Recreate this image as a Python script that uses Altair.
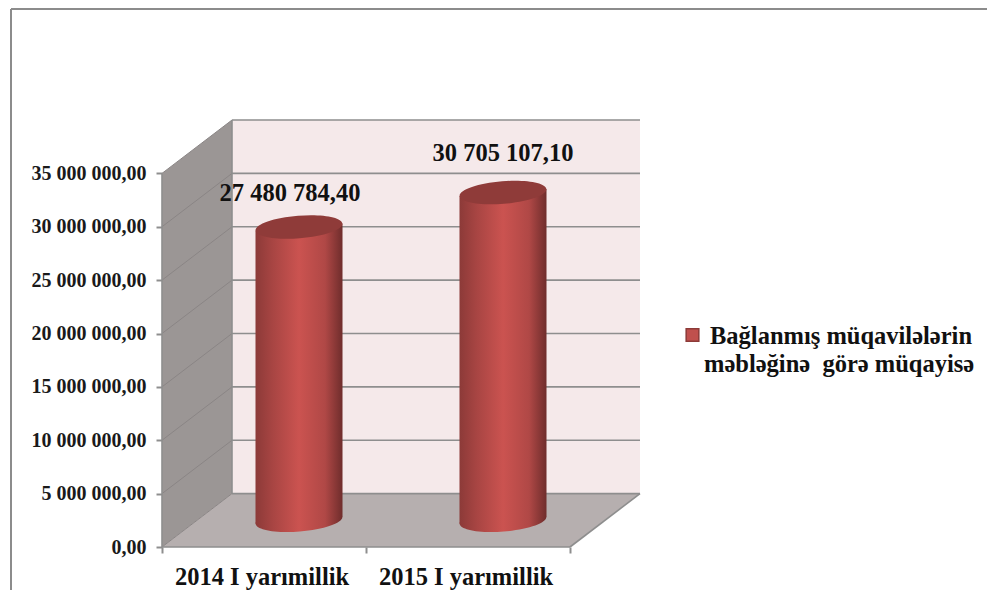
import altair as alt
import pandas as pd

categories = ["2014 I yarımillik", "2015 I yarımillik"]
values = [27480784.40, 30705107.10]
value_labels = ["27 480 784,40", "30 705 107,10"]
y_ticks = [0, 5000000, 10000000, 15000000, 20000000, 25000000, 30000000, 35000000]
legend_lines = ["Bağlanmış müqavilələrin", "məbləğinə\u00a0 görə müqayisə"]

FONT = "Liberation Serif"
GRID = "#8e8e8e"
DX = 70 / 204      # depth of the 3D box, in category units
DY = 5000000       # depth of the 3D box, in value units
HALF = 43.5 / 204  # half width of a cylinder, in category units
TILT = 330000      # ellipse tilt, in value units
X_SCALE = alt.Scale(domain=[0, 2 + DX], nice=False, zero=False)
Y_SCALE = alt.Scale(domain=[0, 40000000], nice=False, zero=False)
X_AXIS = alt.Axis(values=[0, 1, 2], labels=False, domain=False, grid=False, title=None,
                  tickSize=6, tickWidth=2, tickColor=GRID)
Y_AXIS = alt.Axis(
    values=y_ticks, domain=False, grid=False, title=None, tickSize=6, tickWidth=2, tickColor=GRID,
    labelFont=FONT, labelFontSize=20, labelFontWeight="bold", labelColor="#1a1a1a", labelPadding=10,
    labelExpr="replace(replace(format(datum.value, ',.2f'), /,/g, ' '), '.', ',')",
)

ELLIPSE = "M-0.997,0.08A1,0.26,-4.6,1,1,0.997,-0.08A1,0.26,-4.6,1,1,-0.997,0.08Z"
STOPS = [
    alt.GradientStop(offset=0, color="#8c3a38"),
    alt.GradientStop(offset=0.2, color="#a84543"),
    alt.GradientStop(offset=0.5, color="#cb5350"),
    alt.GradientStop(offset=0.8, color="#b04846"),
    alt.GradientStop(offset=1, color="#6f2d2c"),
]
BODY = alt.Gradient(gradient="linear", x1=0, x2=1, y1=0, y2=0, stops=STOPS)


def X(f, **k):
    return alt.X(f, type="quantitative", scale=X_SCALE, axis=X_AXIS, **k)


def Y(f, **k):
    return alt.Y(f, type="quantitative", scale=Y_SCALE, axis=Y_AXIS, **k)


# walls ---------------------------------------------------------------
back = (
    alt.Chart(pd.DataFrame({"x": [DX], "x2": [2 + DX], "y": [DY], "y2": [35000000 + DY]}))
    .mark_rect(color="#f5e9ea")
    .encode(X("x"), x2="x2", y=Y("y"), y2="y2")
)
side = (
    alt.Chart(pd.DataFrame({"x": [0, DX], "y": [0, DY], "y2": [35000000, 35000000 + DY]}))
    .mark_area(color="#9b9695", opacity=1)
    .encode(X("x"), Y("y"), y2="y2")
)
floor = (
    alt.Chart(pd.DataFrame({"y": [0, DY], "x": [0, DX], "x2": [2, 2 + DX]}))
    .mark_area(color="#b6afaf", opacity=1, orient="horizontal")
    .encode(X("x"), Y("y"), x2="x2")
)

# grid ----------------------------------------------------------------
grid_df = pd.DataFrame({"v": y_ticks})
grid_back = (
    alt.Chart(grid_df)
    .transform_calculate(x=f"{DX}", x2=f"{2 + DX}", y=f"datum.v + {DY}")
    .mark_rule(color=GRID, strokeWidth=1.6)
    .encode(X("x"), x2="x2", y=Y("y"))
)
grid_side = (
    alt.Chart(grid_df)
    .transform_calculate(x="0", x2=f"{DX}", y2=f"datum.v + {DY}")
    .mark_rule(color="#8a8585", strokeWidth=1)
    .encode(X("x"), x2="x2", y=Y("v"), y2="y2")
)
edges = pd.DataFrame(
    {"x": [DX, 2, 0, 0], "x2": [DX, 2 + DX, 2, 0], "y": [DY, 0, 0, 0], "y2": [35000000 + DY, DY, 0, 35000000]}
)
edge_rules = (
    alt.Chart(edges)
    .mark_rule(color=GRID, strokeWidth=1.6)
    .encode(X("x"), x2="x2", y=Y("y"), y2="y2")
)

# cylinders -----------------------------------------------------------
cyl_df = pd.DataFrame({"cat": categories, "value": values, "label": value_labels})
cyl_df["cx"] = [i + 0.5 + DX / 2 for i in range(len(values))]
cyl_df["top"] = cyl_df["value"] + DY / 2
cyl_df["base"] = DY / 2

side_rows = []
for _, r in cyl_df.iterrows():
    side_rows.append({"cat": r["cat"], "x": r["cx"] - HALF, "y": r["base"] - TILT, "y2": r["top"] - TILT})
    side_rows.append({"cat": r["cat"], "x": r["cx"] + HALF, "y": r["base"] + TILT, "y2": r["top"] + TILT})
body_df = pd.DataFrame(side_rows)

bottoms = (
    alt.Chart(cyl_df)
    .mark_point(filled=True, shape=ELLIPSE, size=87 * 87, fill=BODY, opacity=1, strokeWidth=0)
    .encode(X("cx"), Y("base"))
)
bodies = [
    alt.Chart(body_df[body_df["cat"] == c])
    .mark_area(fill=BODY, opacity=1)
    .encode(X("x"), Y("y"), y2="y2")
    for c in categories
]
tops = (
    alt.Chart(cyl_df)
    .mark_point(filled=True, shape=ELLIPSE, size=87 * 87, fill="#8f3b39", opacity=1, strokeWidth=0)
    .encode(X("cx"), Y("top"))
)

# texts ---------------------------------------------------------------
TEXT = dict(font=FONT, fontSize=24.5, fontWeight="bold", color="#111111")
label_1 = (
    alt.Chart(cyl_df.iloc[[0]])
    .mark_text(dx=-9, dy=-33, **TEXT)
    .encode(X("cx"), Y("top"), text="label:N")
)
label_2 = (
    alt.Chart(cyl_df.iloc[[1]])
    .mark_text(dx=0, dy=-39, **TEXT)
    .encode(X("cx"), Y("top"), text="label:N")
)
cat_df = pd.DataFrame({"cat": categories, "x": [i + 0.5 for i in range(len(categories))], "y": [0] * len(categories)})
cat_labels = (
    alt.Chart(cat_df)
    .mark_text(dy=31, dx=-2, **TEXT)
    .encode(X("x"), Y("y"), text="cat:N")
)

# legend --------------------------------------------------------------
legend_box = (
    alt.Chart(pd.DataFrame({"k": [0]}))
    .mark_square(size=160, fill="#c0504d", stroke="#8c3a38", strokeWidth=1.5, opacity=1)
    .encode(x=alt.value(530.5), y=alt.value(215))
)
legend_1 = (
    alt.Chart(pd.DataFrame({"t": [legend_lines[0]]}))
    .mark_text(align="left", **TEXT)
    .encode(x=alt.value(548), y=alt.value(217), text="t:N")
)
legend_2 = (
    alt.Chart(pd.DataFrame({"t": [legend_lines[1]]}))
    .mark_text(align="left", **TEXT)
    .encode(x=alt.value(542), y=alt.value(245), text="t:N")
)

# frame ---------------------------------------------------------------
frame_top = (
    alt.Chart(pd.DataFrame({"k": [0]}))
    .mark_rule(color="#8c8c8c", strokeWidth=2)
    .encode(x=alt.value(-151), x2=alt.value(840), y=alt.value(-111))
)
frame_left = (
    alt.Chart(pd.DataFrame({"k": [0]}))
    .mark_rule(color="#8c8c8c", strokeWidth=2)
    .encode(x=alt.value(-151), y=alt.value(-111), y2=alt.value(490))
)

chart = (
    alt.layer(
        frame_top, frame_left, back, side, floor, grid_back, grid_side, edge_rules,
        bottoms, *bodies, tops, label_1, label_2, cat_labels, legend_box, legend_1, legend_2,
    )
    .properties(
        width=478,
        height=427,
        autosize="none",
        padding={"left": 154, "top": 112, "right": 347, "bottom": 43},
        background="white",
    )
    .configure_view(stroke=None)
)

chart.save("out.html", embed_options={"renderer": "svg", "actions": False})
